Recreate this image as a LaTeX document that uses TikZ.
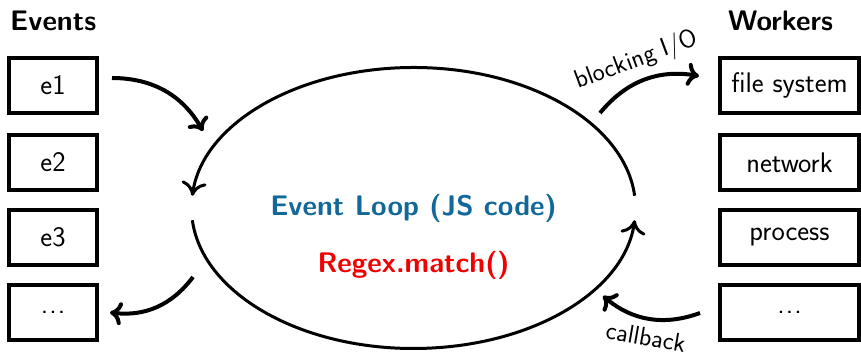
\documentclass[tikz,border=0pt]{standalone}
\usetikzlibrary{arrows.meta,calc}
\definecolor{loopblue}{RGB}{18,104,153}
\definecolor{matchred}{RGB}{240,0,0}
\newcommand{\spreaddots}{.\kern0.04em.\kern0.04em.}
\begin{document}
\begin{tikzpicture}[x=1pt,y=1pt,
  every node/.style={font=\fontsize{28.3}{34}\selectfont\sffamily},
  title/.style={font=\fontsize{28.3}{34}\selectfont\sffamily\bfseries, anchor=base west, inner sep=0pt},
  evbox/.style={draw, line width=4pt, minimum width=88pt, minimum height=55pt, inner sep=0pt},
  wkbox/.style={draw, line width=4pt, minimum width=139pt, minimum height=55pt, inner sep=0pt},
  ring/.style={line width=3pt, -{To[length=14pt,width=25pt]}},
  flow/.style={line width=4pt, -{To[length=12pt,width=23pt]}, bend left=30},
  lbl/.style={font=\fontsize{25.7}{30}\selectfont\sffamily, inner sep=6pt},
  ]
\useasboundingbox (0,0) rectangle (861,352);

% column headings
\node[title] (evt) at (10,321) {Events};
\node[title] (wkt) at (728,321) {Workers};

% event queue
\node[evbox] (e1) at (53,266.5) {e1};
\node[evbox] (e2) at (53,189.5) {e2};
\node[evbox] (e3) at (53,114.5) {e3};
\node[evbox] (ed) at (53,39.5) {\spreaddots};

% worker pool
\node[wkbox] (fs) at (789.5,266.5) {file system};
\node[wkbox] (net) at (789.5,189.5) {network};
\node[wkbox] (proc) at (789.5,114.5) {process};
\node[wkbox] (wd) at (789.5,39.5) {\spreaddots};

% the loop itself: two arcs with gaps on the left and right
\coordinate (c) at (413.5,144);
\draw[ring] (c) ++(5:222 and 140.5) arc[start angle=5, end angle=175, x radius=222, y radius=140.5];
\draw[ring] (c) ++(185:222 and 140.5) arc[start angle=185, end angle=355, x radius=222, y radius=140.5];

\node[font=\fontsize{28.3}{34}\selectfont\sffamily\bfseries, text=loopblue, anchor=base] (lp) at (413.5,136) {Event Loop (JS code)};
\node[font=\fontsize{28.3}{34}\selectfont\sffamily\bfseries, text=matchred, anchor=base] (rx) at (413.5,79) {Regex.match()};

% connectors between queue, loop and workers
\coordinate (inend) at (203,221);
\coordinate (outstart) at (193,75);
\coordinate (iostart) at (600,239);
\coordinate (cbend) at (603,56);

\draw[flow] ($(e1.east)+(13,7.5)$) to (inend);
\draw[flow] (outstart) to ($(ed.east)+(11,0)$);
\draw[flow] (iostart) to node[lbl, sloped, above] {blocking I/O} ($(fs.west)+(-19,9.5)$);
\draw[flow] ($(wd.west)+(-18,-0.5)$) to node[lbl, sloped, below, inner sep=7pt] {callback} (cbend);
\end{tikzpicture}
\end{document}
